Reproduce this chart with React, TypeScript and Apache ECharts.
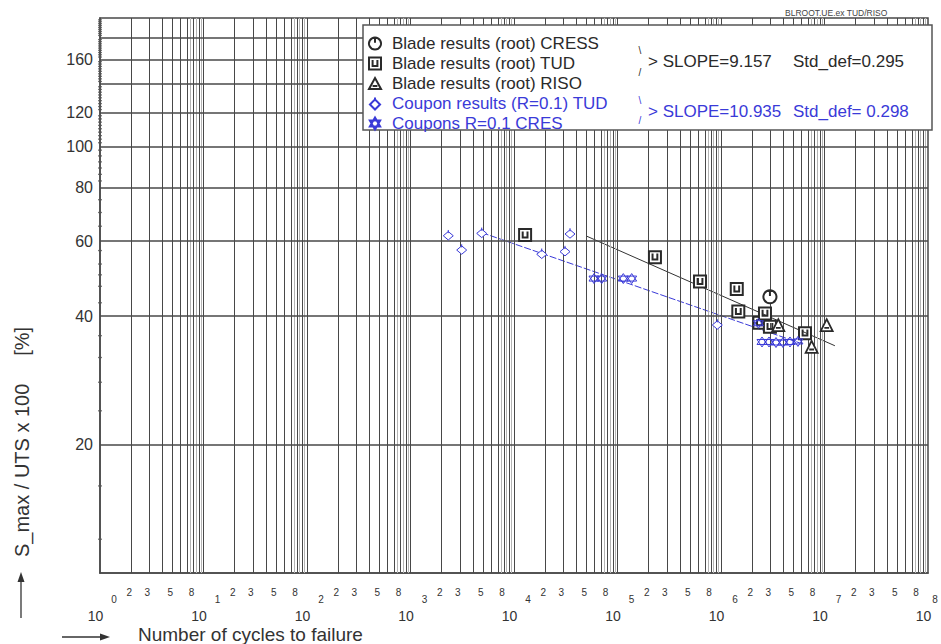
import React, { useEffect, useRef } from "react";
import * as echarts from "echarts";

const FONT = '"Liberation Sans", Arial, Helvetica, sans-serif';
const INK = "#2a2a2a";
const BLUE = "#3a3ad8";
const GRID = "#484848";

// Cycle axis: decades 10^0 .. 10^8
const decadeExponents = [0, 1, 2, 3, 4, 5, 6, 7, 8];
const gridMultipliers = [1, 2, 3, 4, 5, 6, 7, 8, 9];
const fineMultipliers = [7.5, 8.5, 9.5];
const minorLabelMultipliers = [2, 3, 5, 8];

// Stress axis (%)
const stressGridValues = [20, 40, 60, 80, 100, 120, 140, 160, 180];
const stressTickLabels = [20, 40, 60, 80, 100, 120, 160];
const stressAxisDots = [
  12, 16, 24, 28, 32, 36, 43, 47, 50, 53, 57, 65, 70, 75, 83, 86, 89, 92, 95, 98,
  102, 104, 106, 108, 110, 112, 114, 116, 118, 122, 124, 126, 128, 130, 132, 134,
  136, 138, 142, 144, 146, 148, 150, 152, 154, 156, 158, 162, 164, 166, 168, 170,
  172, 174, 176, 178, 182, 184, 186, 188, 190, 192, 194, 196, 198,
];

// Test results: [cycles to failure, S_max / UTS x 100]
const bladeCress = [[2.97e6, 44.4]];
const bladeTud = [
  [1.28e4, 62.0], [2.3e5, 55.0], [6.27e5, 48.2], [1.42e6, 46.3], [1.47e6, 41.0],
  [2.35e6, 38.6], [2.66e6, 40.6], [2.97e6, 37.8], [6.48e6, 36.5],
];
const bladeRiso = [[3.58e6, 38.1], [7.51e6, 33.9], [1.05e7, 38.1]];
const couponTud = [
  [2317, 62.0], [3124, 57.4], [4875, 62.8], [18530, 56.1], [31100, 56.9],
  [34760, 62.6], [9.21e5, 38.3],
];
const couponCres = [
  [59300, 49.0], [70300, 49.0], [113800, 49.0], [137100, 49.0], [2.3e6, 38.5],
  [2.49e6, 34.8], [2.91e6, 34.8], [3.4e6, 34.7], [3.97e6, 34.7], [4.64e6, 34.8],
  [5.54e6, 34.9],
];

// Fitted S-N lines
const bladeFit = [[5.04e4, 61.6], [1.26e7, 34.1]];
const couponFit = [[4875, 62.8], [5.8e6, 34.6]];

const legendNames = [
  "Blade results (root) CRESS",
  "Blade results (root) TUD",
  "Blade results (root) RISO",
  "Coupon results (R=0.1) TUD",
  "Coupons R=0.1 CRES",
];

const symCress = "path://M10,1 A9,9 0 1,1 9.99,1 Z M10,1 L10,9";
const symTud = "path://M0,0 L10,0 L10,10 L0,10 Z M3,2 L3,7 L7,7 L7,2";
const symRiso = "path://M5,0 L10,9 L0,9 Z M3,6.5 L7,6.5";
const symCouponTud = "path://M5,1.5 L9,5.5 L5,9.5 L1,5.5 Z M5,0 L5,3";
const symCouponCres = "path://M5,0 L9.3,7.5 L0.7,7.5 Z M5,10 L0.7,2.5 L9.3,2.5 Z";

export default function App() {
  const ref = useRef<HTMLDivElement>(null);

  useEffect(() => {
    if (!ref.current) return;
    const chart = echarts.init(ref.current, null, { renderer: "svg" });

    const xGridLines: any[] = [];
    decadeExponents.forEach((e) => {
      gridMultipliers.forEach((m) => {
        const v = m * Math.pow(10, e);
        if (v > 1 && v < 1e8) xGridLines.push({ xAxis: v });
      });
      if (e < 8) {
        fineMultipliers.forEach((m) => {
          xGridLines.push({ xAxis: m * Math.pow(10, e), lineStyle: { color: "#b4b4b4", width: 1 } });
        });
      }
    });
    const yGridLines = stressGridValues.map((v) => ({ yAxis: v, lineStyle: { color: GRID, width: 1.5 } }));

    const markerSeries = (name: string, data: number[][], symbol: string, size: number, color: string, fill: string, bw: number) => ({
      name,
      type: "scatter",
      data,
      symbol,
      symbolSize: size,
      z: 6,
      itemStyle: { color: fill, borderColor: color, borderWidth: bw, opacity: 1 },
      emphasis: { disabled: true },
    });

    const option: any = {
      animation: false,
      backgroundColor: "#ffffff",
      grid: { left: 100, right: 13, top: 18, bottom: 71, show: true, borderColor: GRID, borderWidth: 1.5, backgroundColor: "transparent" },
      xAxis: {
        type: "log",
        logBase: 10,
        min: 1,
        max: 1e8,
        axisLine: { show: true, lineStyle: { color: GRID, width: 1.5 } },
        axisTick: { show: false },
        axisLabel: { show: false },
        splitLine: { show: false },
      },
      yAxis: {
        type: "log",
        logBase: 10,
        min: 10,
        max: 200,
        axisLine: { show: true, lineStyle: { color: GRID, width: 1.5 } },
        axisTick: { show: false },
        axisLabel: { show: false },
        splitLine: { show: false },
      },
      legend: {
        orient: "vertical",
        left: 363,
        top: 30,
        itemWidth: 12,
        itemHeight: 12,
        itemGap: 3,
        z: 20,
        selectedMode: false,
        textStyle: { fontSize: 17, lineHeight: 17, fontFamily: FONT, color: INK, padding: [0, 0, 0, 6] },
        data: legendNames.map((n, i) => (i < 3 ? { name: n } : { name: n, textStyle: { color: BLUE } })),
      },
      series: [
        {
          name: "axis dots",
          type: "scatter",
          data: stressAxisDots.map((v) => [1, v]),
          symbol: "rect",
          symbolSize: [4, 1.3],
          silent: true,
          itemStyle: { color: "#555" },
          z: 3,
          markLine: {
            silent: true,
            symbol: ["none", "none"],
            label: { show: false },
            lineStyle: { color: GRID, width: 1, type: "solid" },
            emphasis: { disabled: true },
            data: [...xGridLines, ...yGridLines],
          },
        },
        {
          name: "blade fit",
          type: "line",
          data: bladeFit,
          showSymbol: false,
          symbol: "none",
          z: 4,
          lineStyle: { color: "#333", width: 1 },
        },
        {
          name: "coupon fit",
          type: "line",
          data: couponFit,
          showSymbol: false,
          symbol: "none",
          z: 4,
          lineStyle: { color: BLUE, width: 1, type: [7, 2] },
        },
        markerSeries(legendNames[0], bladeCress, symCress, 13, INK, "#ffffff", 2),
        markerSeries(legendNames[1], bladeTud, symTud, 12, INK, "#ffffff", 2),
        markerSeries(legendNames[2], bladeRiso, symRiso, 12, INK, "#ffffff", 1.8),
        markerSeries(legendNames[3], couponTud, symCouponTud, 10, BLUE, "#ffffff", 1),
        markerSeries(legendNames[4], couponCres, symCouponCres, 10, BLUE, "rgba(255,255,255,0)", 1),
      ],
    };

    chart.setOption(option);

    const xPx = (v: number) => chart.convertToPixel({ xAxisIndex: 0 }, v) as unknown as number;
    const yPx = (v: number) => chart.convertToPixel({ yAxisIndex: 0 }, v) as unknown as number;

    const txt = (x: number, y: number, text: string, size: number, o: any = {}) => ({
      type: "text",
      x,
      y,
      z: 30,
      silent: true,
      rotation: o.rotation ?? 0,
      style: {
        text,
        fill: o.fill ?? "#333",
        font: `${size}px ${FONT}`,
        align: o.align ?? "center",
        verticalAlign: o.va ?? "middle",
      },
    });

    const graphics: any[] = [];

    // cycle axis labels: 10 with exponent, plus 2 3 5 8 inside each decade
    decadeExponents.forEach((e) => {
      const px = xPx(Math.pow(10, e));
      graphics.push(txt(px - 4.5, 616, "10", 14));
      graphics.push(txt(Math.min(px + 14, 935), 599, String(e), 10));
      if (e < 8) {
        minorLabelMultipliers.forEach((m) => {
          graphics.push(txt(xPx(m * Math.pow(10, e)) - 2, 592, String(m), 10));
        });
      }
    });

    // stress axis labels
    stressTickLabels.forEach((v) => {
      graphics.push(txt(93, yPx(v), String(v), 16, { align: "right" }));
    });

    // axis titles with arrows
    graphics.push(txt(22, 442, "S_max / UTS x 100     [%]", 20, { rotation: Math.PI / 2 }));
    graphics.push({ type: "line", z: 30, silent: true, shape: { x1: 21, y1: 618, x2: 21, y2: 578 }, style: { stroke: "#333", lineWidth: 1.3 } });
    graphics.push({ type: "polygon", z: 30, silent: true, shape: { points: [[21, 572], [17.5, 582], [24.5, 582]] }, style: { fill: "#333" } });
    graphics.push(txt(138, 634, "Number of cycles to failure", 19, { align: "left" }));
    graphics.push({ type: "line", z: 30, silent: true, shape: { x1: 62, y1: 637, x2: 104, y2: 637 }, style: { stroke: "#333", lineWidth: 1.3 } });
    graphics.push({ type: "polygon", z: 30, silent: true, shape: { points: [[110, 637], [100, 633.5], [100, 640.5]] }, style: { fill: "#333" } });

    // legend frame and fit statistics
    graphics.push({ type: "rect", z: 10, silent: true, shape: { x: 363, y: 25, width: 569, height: 105 }, style: { fill: "#ffffff", stroke: "#555", lineWidth: 1.5 } });
    graphics.push(txt(640, 50, "\\", 10, { fill: INK }));
    graphics.push(txt(640, 72, "/", 10, { fill: INK }));
    graphics.push(txt(648, 61, "> SLOPE=9.157", 17, { align: "left", fill: INK }));
    graphics.push(txt(793, 61, "Std_def=0.295", 17, { align: "left", fill: INK }));
    graphics.push(txt(640, 100, "\\", 10, { fill: BLUE }));
    graphics.push(txt(640, 120, "/", 10, { fill: BLUE }));
    graphics.push(txt(648, 111, "> SLOPE=10.935", 17, { align: "left", fill: BLUE }));
    graphics.push(txt(793, 111, "Std_def= 0.298", 17, { align: "left", fill: BLUE }));

    // file tag above the frame
    graphics.push(txt(785, 13, "BLROOT.UE.ex TUD/RISO", 8.5, { align: "left", fill: "#444" }));

    chart.setOption({ graphic: graphics });

    return () => chart.dispose();
  }, []);

  return <div ref={ref} style={{ position: "absolute", left: 0, top: 0, width: 941, height: 644 }} />;
}
